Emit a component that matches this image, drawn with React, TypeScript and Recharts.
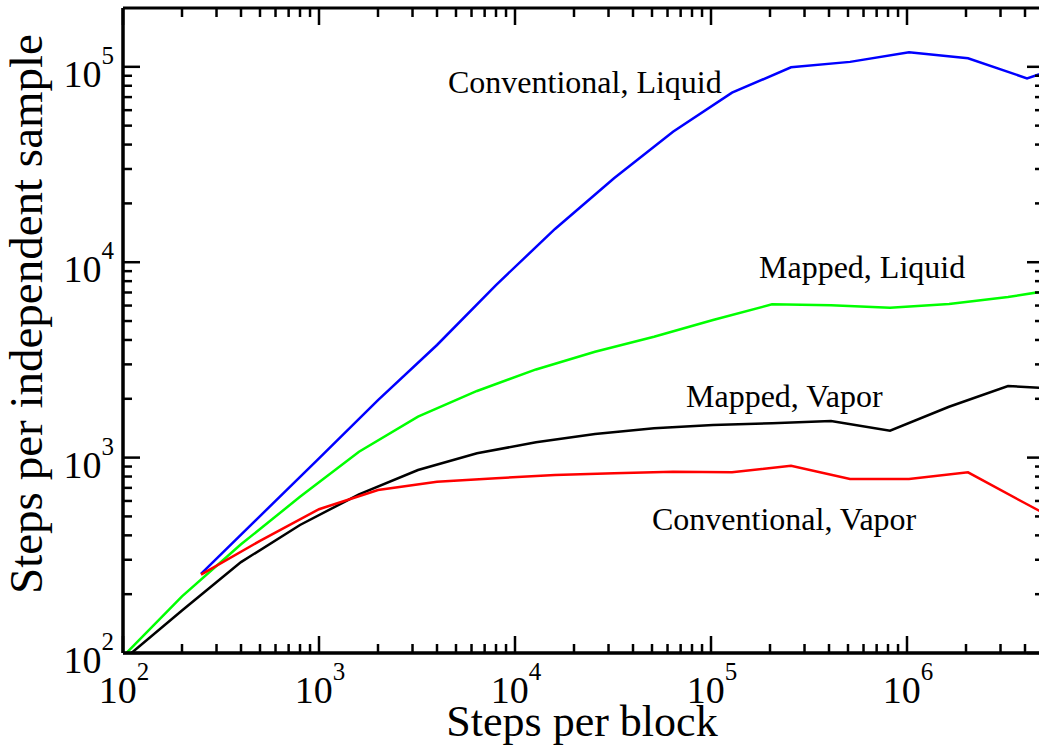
import React from 'react';
import { LineChart, Line, XAxis, YAxis } from 'recharts';

// Steps per block for the "conventional" runs and the "mapped" runs
const conventionalSteps = [250, 500, 1000, 2000, 4000, 8000, 16000, 32000, 64000, 128000, 256000, 512000, 1024000, 2048000, 4096000, 8192000];
const mappedSteps = [100, 200, 400, 800, 1600, 3200, 6400, 12800, 25600, 51200, 102400, 204800, 409600, 819200, 1638400, 3276800, 6553600];

// Steps per independent sample
const conventionalLiquid = [254, 502, 990, 1970, 3770, 7640, 14800, 26900, 46500, 73700, 99400, 106000, 118600, 110500, 87300, 110000];
const conventionalVapor = [252, 375, 544, 683, 753, 784, 815, 831, 847, 841, 909, 777, 777, 841, 577, 400];
const mappedLiquid = [96, 195, 360, 630, 1072, 1619, 2193, 2826, 3483, 4157, 5060, 6090, 6016, 5850, 6110, 6640, 7400];
const mappedVapor = [92, 165, 292, 452, 649, 864, 1052, 1198, 1321, 1413, 1468, 1499, 1539, 1373, 1821, 2325, 2240];

const xMajorTicks = [1e2, 1e3, 1e4, 1e5, 1e6];
const yMajorTicks = [1e2, 1e3, 1e4, 1e5];
const xDomain = [100, 5e6];
const yDomain = [100, 2e5];

const seriesLabels = {
  convLiquid: 'Conventional, Liquid',
  mapLiquid: 'Mapped, Liquid',
  mapVapor: 'Mapped, Vapor',
  convVapor: 'Conventional, Vapor',
};
const xTitle = 'Steps per block';
const yTitle = 'Steps per independent sample';

const withMinors = (majors: number[], max: number) => {
  const out: number[] = [];
  majors.forEach((m) => {
    for (let k = 1; k <= 9; k++) {
      const v = m * k;
      if (v < max) out.push(v);
    }
  });
  return out;
};
const xTicks = withMinors(xMajorTicks, xDomain[1]);
const yTicks = withMinors(yMajorTicks, yDomain[1]);

const zip = (xs: number[], ys: number[]) => xs.map((x, i) => ({ x, y: ys[i] }));
const convLiquidData = zip(conventionalSteps, conventionalLiquid);
const convVaporData = zip(conventionalSteps, conventionalVapor);
const mapLiquidData = zip(mappedSteps, mappedLiquid);
const mapVaporData = zip(mappedSteps, mappedVapor);

// layout
const CHART_W = 1100;
const CHART_H = 756;
const M_TOP = 8;
const M_RIGHT = 56;
const Y_AXIS_W = 123;
const X_AXIS_H = 103;
const PLOT_L = Y_AXIS_W;
const PLOT_T = M_TOP;
const PLOT_W = CHART_W - M_RIGHT - Y_AXIS_W;
const PLOT_H = CHART_H - M_TOP - X_AXIS_H;
const PLOT_R = PLOT_L + PLOT_W;
const PLOT_B = PLOT_T + PLOT_H;

// same log mapping as the chart's axes, used for the tick marks of the frame
const sx = (v: number) => PLOT_L + (PLOT_W * Math.log10(v / xDomain[0])) / Math.log10(xDomain[1] / xDomain[0]);
const sy = (v: number) => PLOT_B - (PLOT_H * Math.log10(v / yDomain[0])) / Math.log10(yDomain[1] / yDomain[0]);

const FONT = '"Liberation Serif", "Times New Roman", serif';
const MAJOR = 17;
const MINOR = 9;
const isMajor = (v: number) => Math.abs(Math.log10(v) - Math.round(Math.log10(v))) < 1e-9;
const expOf = (v: number) => Math.round(Math.log10(v));

const renderBottomLabel = (props: any) => {
  const x = Number(props.x);
  const y = Number(props.y);
  const v = props.payload.value;
  return (
    <text x={x + 1} y={y + 50} textAnchor="middle" fontFamily={FONT} fontSize={38} fill="#000">
      <tspan>10</tspan>
      <tspan dy={-23} fontSize={25}>{expOf(v)}</tspan>
    </text>
  );
};

const renderLeftLabel = (props: any) => {
  const x = Number(props.x);
  const y = Number(props.y);
  const v = props.payload.value;
  return (
    <text x={x - 9} y={y + 20} textAnchor="end" fontFamily={FONT} fontSize={38} fill="#000">
      <tspan>10</tspan>
      <tspan dy={-23} fontSize={25}>{expOf(v)}</tspan>
    </text>
  );
};

export default function App() {
  const axisLine = { stroke: '#000', strokeWidth: 3 };
  return (
    <div style={{ position: 'absolute', left: 0, top: 0, width: 1039, height: 756, overflow: 'hidden', background: '#fff' }}>
      <LineChart width={CHART_W} height={CHART_H} margin={{ top: M_TOP, right: M_RIGHT, left: 0, bottom: 0 }}>
        <XAxis
          xAxisId="b"
          dataKey="x"
          type="number"
          scale="log"
          domain={xDomain}
          allowDataOverflow
          ticks={xMajorTicks}
          interval={0}
          tickSize={0}
          tickMargin={0}
          tickLine={false}
          axisLine={axisLine}
          tick={renderBottomLabel}
          height={X_AXIS_H}
          orientation="bottom"
        />
        <YAxis
          yAxisId="l"
          type="number"
          scale="log"
          domain={yDomain}
          allowDataOverflow
          ticks={yMajorTicks}
          interval={0}
          tickSize={0}
          tickMargin={0}
          tickLine={false}
          axisLine={axisLine}
          tick={renderLeftLabel}
          width={Y_AXIS_W}
          orientation="left"
        />
        <Line xAxisId="b" yAxisId="l" data={convLiquidData} dataKey="y" type="linear" stroke="#0000ff" strokeWidth={2.5} dot={false} isAnimationActive={false} />
        <Line xAxisId="b" yAxisId="l" data={mapLiquidData} dataKey="y" type="linear" stroke="#00ff00" strokeWidth={2.5} dot={false} isAnimationActive={false} />
        <Line xAxisId="b" yAxisId="l" data={mapVaporData} dataKey="y" type="linear" stroke="#000000" strokeWidth={2.5} dot={false} isAnimationActive={false} />
        <Line xAxisId="b" yAxisId="l" data={convVaporData} dataKey="y" type="linear" stroke="#ff0000" strokeWidth={2.5} dot={false} isAnimationActive={false} />
      </LineChart>
      <svg width={1039} height={756} style={{ position: 'absolute', left: 0, top: 0, pointerEvents: 'none' }}>
        <g stroke="#000" fill="none">
          <line x1={PLOT_L} x2={PLOT_R} y1={PLOT_T} y2={PLOT_T} strokeWidth={3} />
          <line x1={PLOT_L} x2={PLOT_R} y1={PLOT_B} y2={PLOT_B} strokeWidth={3} />
          <line x1={PLOT_L} x2={PLOT_L} y1={PLOT_T} y2={PLOT_B} strokeWidth={3} />
          <line x1={PLOT_R} x2={PLOT_R} y1={PLOT_T} y2={PLOT_B} strokeWidth={3} />
          {xTicks.map((v) => {
            const len = isMajor(v) ? MAJOR : MINOR;
            const x = sx(v);
            return (
              <g key={`xt-${v}`} strokeWidth={2.5}>
                <line x1={x} x2={x} y1={PLOT_B} y2={PLOT_B - len} />
                <line x1={x} x2={x} y1={PLOT_T} y2={PLOT_T + len} />
              </g>
            );
          })}
          {yTicks.map((v) => {
            const len = isMajor(v) ? MAJOR : MINOR;
            const y = sy(v);
            return (
              <g key={`yt-${v}`} strokeWidth={2.5}>
                <line x1={PLOT_L} x2={PLOT_L + len} y1={y} y2={y} />
                <line x1={PLOT_R} x2={PLOT_R - len} y1={y} y2={y} />
              </g>
            );
          })}
        </g>
        <g fontFamily={FONT} fill="#000">
          <text x={448} y={93} fontSize={32}>{seriesLabels.convLiquid}</text>
          <text x={759} y={278} fontSize={32}>{seriesLabels.mapLiquid}</text>
          <text x={686} y={407} fontSize={32}>{seriesLabels.mapVapor}</text>
          <text x={652} y={530} fontSize={32}>{seriesLabels.convVapor}</text>
          <text x={582} y={736} fontSize={44} textAnchor="middle">{xTitle}</text>
          <text x={42} y={314} fontSize={47} textAnchor="middle" transform="rotate(-90 42 314)">{yTitle}</text>
        </g>
      </svg>
    </div>
  );
}
